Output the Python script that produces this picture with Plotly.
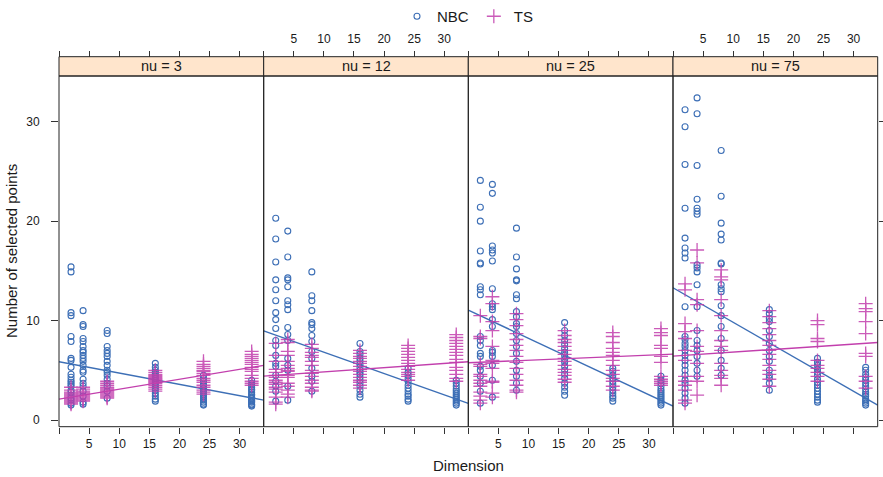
import plotly.graph_objects as go

# ---------------- data ----------------
dimensions = [2, 4, 8, 16, 24, 32]
nu_levels = [3, 12, 25, 75]
panel_titles = ["nu = 3", "nu = 12", "nu = 25", "nu = 75"]
x_tick_vals = [0, 5, 10, 15, 20, 25, 30]
x_tick_text = ["", "5", "10", "15", "20", "25", "30"]
y_tick_vals = [0, 10, 20, 30]
y_tick_text = ["0", "10", "20", "30"]

# number of selected points, one list per dimension (2, 4, 8, 16, 24, 32)
nbc_nu3 = [
    [15.4, 14.9, 10.8, 10.5, 8.4, 7.9, 6.2, 6.0, 5.3, 4.6, 4.3, 4.0, 3.8, 3.6, 3.4, 3.0, 2.8, 2.5, 2.2, 2.0, 1.7, 1.5],
    [11.0, 9.6, 9.4, 8.2, 7.9, 7.4, 7.0, 6.8, 6.5, 6.2, 5.9, 5.5, 5.0, 4.8, 4.1, 3.7, 3.4, 2.9, 2.4, 1.8, 1.6],
    [9.0, 8.7, 7.4, 7.0, 6.7, 6.4, 5.9, 5.5, 5.0, 4.8, 4.5, 4.1, 3.7, 3.4, 2.9, 2.2],
    [5.7, 5.3, 5.0, 4.8, 4.6, 4.4, 4.2, 4.0, 3.8, 3.6, 3.4, 3.2, 3.0, 2.7, 2.4, 2.1, 1.9],
    [4.5, 4.2, 3.9, 3.6, 3.4, 3.2, 3.0, 2.8, 2.6, 2.4, 2.2, 2.0, 1.8, 1.6, 1.5],
    [4.0, 3.7, 3.5, 3.3, 3.1, 3.0, 2.8, 2.6, 2.5, 2.3, 2.2, 2.0, 1.9, 1.8, 1.6, 1.5, 1.4],
]
ts_nu3 = [
    [3.3, 3.0, 2.8, 2.7, 2.6, 2.5, 2.4, 2.3, 2.2, 2.1, 2.0, 1.9, 1.8, 1.7, 1.6],
    [3.3, 3.1, 2.9, 2.8, 2.7, 2.6, 2.5, 2.4, 2.3, 2.2, 2.1, 2.0, 1.9],
    [3.9, 3.7, 3.5, 3.3, 3.2, 3.1, 3.0, 2.9, 2.8, 2.7, 2.6, 2.5, 2.4, 2.3, 2.2],
    [5.0, 4.8, 4.6, 4.5, 4.4, 4.3, 4.2, 4.1, 4.0, 3.9, 3.8, 3.7, 3.5, 3.3, 3.1, 2.9],
    [5.9, 5.6, 5.4, 5.2, 5.0, 4.9, 4.7, 4.5, 4.2, 4.0, 3.8, 3.5, 3.3, 3.0, 2.8, 2.6],
    [6.9, 6.6, 6.4, 6.2, 6.0, 5.8, 5.6, 5.3, 5.1, 4.9, 4.5, 4.2, 3.9, 3.7, 3.5],
]

nbc_nu12 = [
    [20.3, 18.2, 15.9, 14.1, 13.1, 12.0, 10.8, 10.1, 9.2, 8.0, 7.5, 6.5, 5.7, 5.4, 4.5, 3.9, 3.4, 2.9, 1.9],
    [19.0, 16.4, 14.3, 14.1, 13.4, 12.0, 11.6, 11.1, 9.3, 8.6, 8.0, 6.2, 5.5, 5.0, 3.4, 2.0],
    [14.9, 12.5, 12.0, 11.0, 9.8, 9.6, 9.2, 8.5, 7.9, 6.9, 6.2, 5.2, 4.4, 3.9, 2.9],
    [7.7, 6.9, 6.6, 6.2, 5.9, 5.6, 5.3, 5.0, 4.8, 4.6, 4.3, 4.0, 3.7, 3.4, 3.0, 2.6, 2.3],
    [5.2, 4.8, 4.5, 4.2, 3.9, 3.5, 3.2, 2.9, 2.6, 2.4, 2.1, 1.9],
    [4.0, 3.7, 3.4, 3.1, 2.9, 2.7, 2.5, 2.3, 2.1, 1.9, 1.7, 1.5],
]
ts_nu12 = [
    [7.7, 6.5, 5.9, 5.1, 4.8, 4.5, 4.3, 4.0, 3.8, 3.6, 3.3, 3.1, 2.8, 2.3, 1.8, 1.6],
    [8.1, 7.8, 6.9, 6.5, 5.9, 5.5, 5.2, 5.0, 4.9, 4.5, 4.3, 3.7, 3.4, 3.0, 2.6, 2.3],
    [7.6, 7.2, 6.8, 6.5, 6.3, 5.9, 5.5, 5.0, 4.7, 4.4, 4.0, 3.7, 3.3, 3.0, 2.9],
    [7.0, 6.7, 6.4, 6.2, 5.9, 5.7, 5.4, 5.1, 4.9, 4.6, 4.3, 4.0, 3.8, 3.5, 3.2],
    [7.5, 7.2, 6.9, 6.6, 6.3, 6.0, 5.7, 5.4, 5.1, 4.8, 4.6, 4.4, 4.0],
    [8.6, 8.3, 8.0, 7.7, 7.4, 7.1, 6.8, 6.5, 6.1, 5.8, 5.3, 5.0, 4.6, 4.2, 3.9],
]

nbc_nu25 = [
    [24.1, 21.4, 20.0, 17.0, 15.8, 15.7, 13.4, 13.1, 12.6, 8.4, 8.0, 7.5, 6.7, 6.4, 5.4, 5.0, 4.4, 3.7, 2.9, 1.7],
    [23.7, 22.8, 17.5, 17.1, 16.8, 16.0, 13.2, 11.7, 11.4, 11.1, 10.1, 9.4, 7.0, 6.8, 6.4, 5.5, 4.0, 2.3],
    [19.3, 16.4, 15.2, 14.1, 14.0, 12.6, 12.2, 10.9, 10.4, 9.7, 9.4, 8.7, 8.0, 7.4, 6.7, 5.9, 5.0, 4.4, 3.7, 3.0],
    [9.8, 9.0, 8.5, 8.0, 7.6, 7.2, 6.8, 6.5, 6.1, 5.8, 5.4, 5.0, 4.6, 4.2, 3.7, 3.3, 2.9, 2.5],
    [5.2, 4.9, 4.5, 4.2, 3.9, 3.6, 3.3, 3.0, 2.7, 2.4, 2.2, 1.9],
    [4.4, 4.0, 3.7, 3.4, 3.1, 2.9, 2.7, 2.5, 2.3, 2.1, 1.9, 1.7, 1.5],
]
ts_nu25 = [
    [10.5, 8.4, 8.2, 5.6, 5.4, 4.6, 4.4, 4.0, 3.7, 3.4, 2.8, 2.4, 2.0, 1.7],
    [12.4, 11.7, 9.9, 9.0, 7.4, 6.0, 5.7, 5.2, 3.9, 3.8, 2.7, 2.3],
    [10.7, 10.1, 9.5, 8.7, 8.1, 7.5, 7.0, 6.4, 5.8, 5.2, 4.6, 4.0, 3.5, 3.0, 2.8],
    [9.0, 8.5, 8.1, 7.8, 7.4, 7.0, 6.6, 6.2, 5.9, 5.5, 5.1, 4.8, 4.5, 4.1, 3.8],
    [8.8, 8.4, 7.8, 7.2, 6.8, 6.5, 6.0, 5.5, 5.0, 4.6, 4.2, 3.9, 3.4, 3.0],
    [9.2, 8.8, 8.5, 7.5, 7.2, 6.4, 5.8, 4.4, 4.1, 3.9, 3.7, 3.5],
]

nbc_nu75 = [
    [31.2, 29.5, 25.7, 21.3, 18.3, 17.3, 16.8, 16.3, 11.4, 8.4, 8.1, 7.7, 7.4, 7.0, 6.5, 6.0, 5.5, 5.0, 4.5, 4.0, 3.7, 3.2, 2.7, 2.2, 1.7],
    [32.4, 30.8, 25.6, 22.2, 21.3, 21.0, 20.7, 15.6, 15.3, 14.9, 13.6, 11.4, 9.0, 8.0, 7.5, 7.0, 6.4, 5.7, 5.0, 4.4],
    [27.1, 22.5, 19.8, 18.7, 18.1, 15.8, 15.7, 13.6, 13.2, 12.9, 11.5, 10.5, 9.4, 8.2, 7.0, 6.0, 5.2, 4.5],
    [11.1, 10.7, 10.2, 9.9, 9.0, 8.4, 7.7, 7.0, 6.4, 5.9, 5.0, 4.5, 4.2, 3.7, 3.0],
    [6.2, 5.8, 5.5, 5.1, 4.8, 4.5, 4.1, 3.8, 3.5, 3.2, 2.9, 2.6, 2.3, 2.0, 1.8],
    [5.3, 5.0, 4.6, 4.3, 4.0, 3.7, 3.4, 3.1, 2.8, 2.6, 2.4, 2.1, 1.9, 1.7, 1.5],
]
ts_nu75 = [
    [13.7, 13.1, 9.7, 8.9, 8.2, 7.0, 6.0, 4.4, 3.9, 3.5, 3.0, 2.0, 1.7],
    [17.1, 15.8, 12.1, 11.6, 9.0, 7.4, 6.9, 5.7, 4.4, 3.9, 2.5],
    [15.1, 14.4, 14.1, 12.1, 10.5, 9.0, 8.0, 7.4, 7.0, 5.7, 5.0, 4.5, 4.2, 3.5],
    [11.0, 10.4, 9.8, 9.2, 8.6, 8.0, 7.5, 7.0, 6.6, 6.1, 5.5, 5.0, 4.6, 4.1, 3.4],
    [10.0, 9.6, 8.2, 7.9, 6.0, 5.5, 5.2, 4.8, 4.4, 3.9],
    [11.7, 11.2, 10.9, 9.9, 8.7, 6.7, 6.4, 4.4, 3.9, 3.2],
]

# fitted regression lines per panel (intercept at Dimension = 0, slope)
nbc_fit_intercept = [5.86, 8.97, 11.06, 13.3]
nbc_fit_slope = [-0.1135, -0.2144, -0.2838, -0.347]
ts_fit_intercept = [2.1, 4.42, 5.76, 6.43]
ts_fit_slope = [0.1, 0.0424, 0.0256, 0.0403]

nbc_panels = [nbc_nu3, nbc_nu12, nbc_nu25, nbc_nu75]
ts_panels = [ts_nu3, ts_nu12, ts_nu25, ts_nu75]

# ---------------- styling / layout ----------------
W, H = 883, 477
X_RANGE = [0, 34]
Y_RANGE = [-0.67, 34.6]
BLUE = "#3d6fb6"
PINK = "#c23fad"
FONT = "Liberation Sans, Arial, sans-serif"
TXT = "#1a1a1a"

edges_px = [59, 263.7, 468.3, 673, 877.7]
plot_top_px, plot_bot_px, strip_top_px = 76, 426.7, 56.7
ydom = [(H - plot_bot_px) / H, (H - plot_top_px) / H]
strip_top = (H - strip_top_px) / H
doms = [[edges_px[i] / W, edges_px[i + 1] / W] for i in range(4)]

fig = go.Figure()


def flat(groups):
    xs, ys = [], []
    for d, vals in zip(dimensions, groups):
        xs += [d] * len(vals)
        ys += vals
    return xs, ys


for i in range(4):
    xa = "x" if i == 0 else f"x{i + 1}"
    nx, ny = flat(nbc_panels[i])
    tx, ty = flat(ts_panels[i])
    fig.add_trace(go.Scatter(
        x=nx, y=ny, xaxis=xa, yaxis="y", mode="markers", name="NBC",
        legendgroup="NBC", showlegend=(i == 0),
        marker=dict(symbol="circle-open", size=6, color=BLUE, line=dict(width=1.1, color=BLUE)),
    ))
    fig.add_trace(go.Scatter(
        x=X_RANGE, y=[nbc_fit_intercept[i] + nbc_fit_slope[i] * v for v in X_RANGE],
        xaxis=xa, yaxis="y", mode="lines", showlegend=False, legendgroup="NBC",
        line=dict(color=BLUE, width=1.4), hoverinfo="skip",
    ))
    fig.add_trace(go.Scatter(
        x=tx, y=ty, xaxis=xa, yaxis="y", mode="markers", name="TS",
        legendgroup="TS", showlegend=(i == 0), opacity=0.85,
        marker=dict(symbol="cross-thin", size=10, color=PINK, line=dict(width=1.3, color=PINK)),
    ))
    fig.add_trace(go.Scatter(
        x=X_RANGE, y=[ts_fit_intercept[i] + ts_fit_slope[i] * v for v in X_RANGE],
        xaxis=xa, yaxis="y", mode="lines", showlegend=False, legendgroup="TS",
        line=dict(color=PINK, width=1.4), hoverinfo="skip",
    ))
    # empty traces so the top axes are drawn
    fig.add_trace(go.Scatter(x=[None], y=[None], xaxis=f"x{i + 5}", yaxis="y",
                             showlegend=False, hoverinfo="skip"))
fig.add_trace(go.Scatter(x=[None], y=[None], xaxis="x4", yaxis="y2",
                         showlegend=False, hoverinfo="skip"))

tick_common = dict(ticks="outside", tickwidth=1, tickcolor="#333",
                   showgrid=False, zeroline=False, showline=False,
                   tickfont=dict(family=FONT, size=12, color=TXT), fixedrange=True)

layout = dict(
    width=W, height=H, margin=dict(l=0, r=0, t=0, b=0, autoexpand=False),
    paper_bgcolor="white", plot_bgcolor="white",
    font=dict(family=FONT, color=TXT),
    showlegend=True,
    legend=dict(orientation="h", x=0.53, xanchor="center", y=1.0, yanchor="top",
                font=dict(family=FONT, size=15, color=TXT), itemwidth=30,
                bgcolor="rgba(0,0,0,0)"),
    yaxis=dict(domain=ydom, range=Y_RANGE, anchor="x", tickvals=y_tick_vals,
               ticktext=y_tick_text, ticklen=7, ticklabelstandoff=9, **tick_common),
    yaxis2=dict(domain=ydom, range=Y_RANGE, anchor="x4", overlaying="y", side="right",
                tickvals=y_tick_vals, showticklabels=False, ticklen=6, **tick_common),
)
for i in range(4):
    key = "xaxis" if i == 0 else f"xaxis{i + 1}"
    layout[key] = dict(domain=doms[i], range=X_RANGE, anchor="y", tickvals=x_tick_vals,
                       ticktext=x_tick_text, showticklabels=(i % 2 == 0), ticklen=6,
                       **tick_common)
    ov = "x" if i == 0 else f"x{i + 1}"
    layout[f"xaxis{i + 5}"] = dict(domain=doms[i], range=X_RANGE, overlaying=ov, side="top",
                                   anchor="free", position=strip_top, tickvals=x_tick_vals,
                                   ticktext=x_tick_text, showticklabels=(i % 2 == 1),
                                   ticklen=6, ticklabelstandoff=3, **tick_common)
fig.update_layout(**layout)

shapes = []
annotations = []
for i in range(4):
    x0, x1 = doms[i]
    shapes.append(dict(type="rect", xref="paper", yref="paper", x0=x0, x1=x1,
                       y0=ydom[1], y1=strip_top, fillcolor="#ffe5cc",
                       line=dict(color="#222", width=1), layer="above"))
    shapes.append(dict(type="rect", xref="paper", yref="paper", x0=x0, x1=x1,
                       y0=ydom[0], y1=ydom[1], line=dict(color="#222", width=1),
                       layer="above"))
    annotations.append(dict(text=panel_titles[i], xref="paper", yref="paper",
                            x=(x0 + x1) / 2, y=(ydom[1] + strip_top) / 2,
                            showarrow=False, font=dict(family=FONT, size=14.5, color=TXT),
                            xanchor="center", yanchor="middle"))
annotations.append(dict(text="Dimension", xref="paper", yref="paper",
                        x=(edges_px[0] + edges_px[4]) / 2 / W, y=1 - 465 / H,
                        showarrow=False, font=dict(family=FONT, size=15, color=TXT),
                        xanchor="center", yanchor="middle"))
annotations.append(dict(text="Number of selected points", xref="paper", yref="paper",
                        x=12 / W, y=1 - 251 / H, textangle=-90,
                        showarrow=False, font=dict(family=FONT, size=15, color=TXT),
                        xanchor="center", yanchor="middle"))
fig.update_layout(shapes=shapes, annotations=annotations)

fig.write_html("out.html")
